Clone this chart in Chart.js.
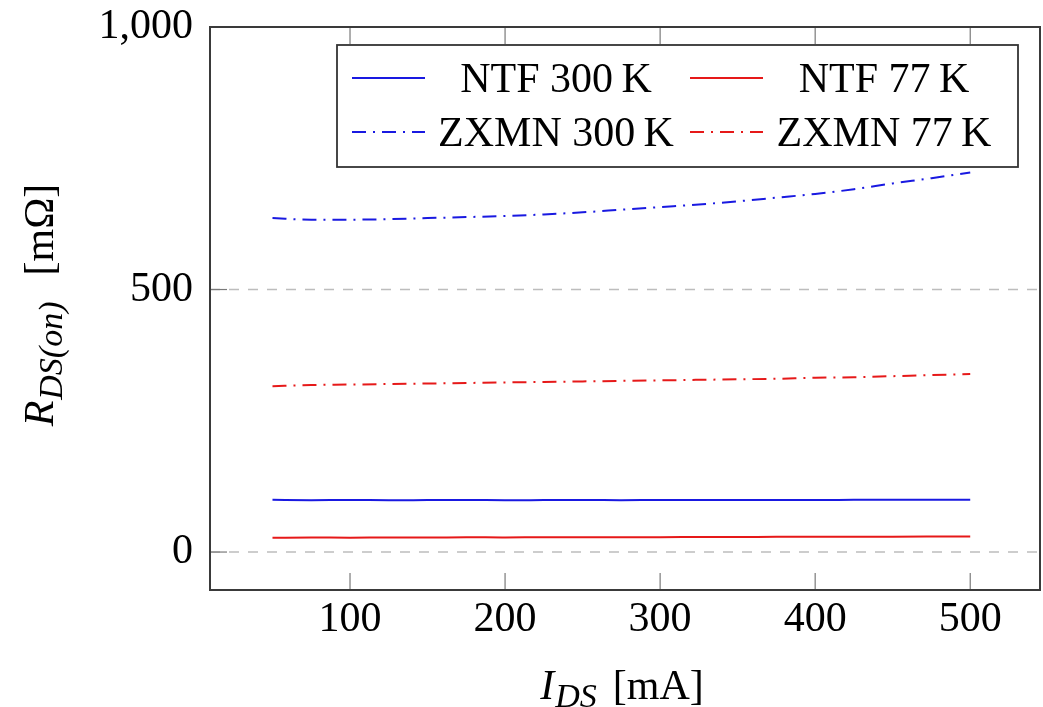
<!DOCTYPE html>
<html>
<head>
<meta charset="utf-8">
<script src="https://cdn.jsdelivr.net/npm/chart.js@4.4.1/dist/chart.umd.min.js"></script>
<style>
  html, body { margin: 0; padding: 0; background: #fff; }
  canvas { display: block; }
</style>
</head>
<body>
<canvas id="grafico" width="1043" height="707"></canvas>
<script>
// I_DS in mA
const corriente = [50, 75, 100, 125, 150, 175, 200, 225, 250, 275, 300, 325, 350, 375, 400, 425, 450, 475, 500];
// R_DS(on) in mOhm
const ntf300 = [99.5, 98.8, 99.2, 98.6, 98.9, 99.1, 98.7, 98.9, 99.0, 98.8, 99.1, 99.0, 99.2, 99.3, 99.1, 99.4, 99.6, 99.5, 99.6];
const ntf77 = [27.0, 27.6, 27.4, 27.8, 27.6, 28.0, 27.9, 28.2, 28.1, 28.4, 28.3, 28.6, 28.7, 28.9, 29.0, 29.1, 29.3, 29.4, 29.5];
const zxmn300 = [636, 633, 633, 634, 636, 638, 640, 643, 647, 652, 657, 662, 668, 675, 682, 691, 702, 712, 723];
const zxmn77 = [316, 318, 319, 320, 321, 322, 323, 324, 325, 326, 327, 328, 329, 330, 332, 333, 335, 337, 339];
const etiquetas = ['NTF 300\u2009K', 'NTF 77\u2009K', 'ZXMN 300\u2009K', 'ZXMN 77\u2009K'];
const ticksX = [100, 200, 300, 400, 500];
const ticksY = [0, 500, 1000];

const SERIF = '"Liberation Serif", "Times New Roman", serif';
const AZUL = 'rgb(25, 25, 225)';
const ROJO = 'rgb(230, 25, 25)';
const RAYA_PUNTO = [14, 7, 2, 7];

function puntos(ys) {
    return corriente.map((x, i) => ({ x: x, y: ys[i] }));
}

// draws a label made of pieces (main text, subscript, ...) centred on cx
function textoCompuesto(ctx, piezas, cx) {
    let total = 0;
    piezas.forEach(p => {
        ctx.font = p.font;
        p.w = ctx.measureText(p.t).width + (p.gap || 0);
        total += p.w;
    });
    let x = cx - total / 2;
    piezas.forEach(p => {
        ctx.font = p.font;
        ctx.fillText(p.t, x, p.dy || 0);
        x += p.w;
    });
}

const marco = {
    id: 'marco',
    beforeDatasetsDraw(chart) {
        const { ctx, chartArea: a, scales: { y } } = chart;
        ctx.save();
        ctx.strokeStyle = '#bdbdbd';
        ctx.lineWidth = 1.5;
        ctx.setLineDash([10, 9]);
        y.ticks.forEach(t => {
            const py = y.getPixelForValue(t.value);
            if (py <= a.top + 2) return;
            ctx.beginPath();
            ctx.moveTo(a.left, py);
            ctx.lineTo(a.right, py);
            ctx.stroke();
        });
        ctx.restore();
    },
    afterDatasetsDraw(chart) {
        const { ctx, chartArea: a, scales: { x, y } } = chart;
        ctx.save();
        ctx.strokeStyle = '#7a7a7a';
        ctx.lineWidth = 1.2;
        x.ticks.forEach(t => {
            const px = x.getPixelForValue(t.value);
            ctx.beginPath();
            ctx.moveTo(px, a.bottom); ctx.lineTo(px, a.bottom - 17);
            ctx.moveTo(px, a.top); ctx.lineTo(px, a.top + 17);
            ctx.stroke();
        });
        y.ticks.forEach(t => {
            const py = y.getPixelForValue(t.value);
            ctx.beginPath();
            ctx.moveTo(a.left, py); ctx.lineTo(a.left + 17, py);
            ctx.stroke();
        });
        ctx.strokeStyle = '#3a3a3a';
        ctx.lineWidth = 2;
        ctx.strokeRect(a.left, a.top, a.right - a.left, a.bottom - a.top);
        ctx.restore();
    },
    afterDraw(chart) {
        const ctx = chart.ctx;
        ctx.save();
        ctx.fillStyle = '#000';
        ctx.textBaseline = 'alphabetic';
        ctx.textAlign = 'left';

        // x axis title
        ctx.save();
        ctx.translate(0, 699);
        textoCompuesto(ctx, [
            { t: 'I', font: 'italic 42px ' + SERIF, gap: 1 },
            { t: 'DS', font: 'italic 34px ' + SERIF, dy: 8, gap: 16 },
            { t: '[mA]', font: '42px ' + SERIF }
        ], 622);
        ctx.restore();

        // y axis title
        ctx.save();
        ctx.translate(53, 305);
        ctx.rotate(-Math.PI / 2);
        textoCompuesto(ctx, [
            { t: 'R', font: 'italic 42px ' + SERIF, gap: 1 },
            { t: 'DS(on)', font: 'italic 34px ' + SERIF, dy: 9, gap: 26 },
            { t: '[m\u03A9]', font: '42px ' + SERIF }
        ], 0);
        ctx.restore();

        // legend
        ctx.fillStyle = '#fff';
        ctx.fillRect(337, 45, 681, 122);
        ctx.strokeStyle = '#333';
        ctx.lineWidth = 1.8;
        ctx.strokeRect(337, 45, 681, 122);
        const muestraX = [352, 690];
        const textoX = [556, 884];
        const filaY = [78, 132];
        chart.data.datasets.forEach((ds, i) => {
            const col = i % 2, fila = Math.floor(i / 2);
            ctx.strokeStyle = ds.borderColor;
            ctx.lineWidth = ds.borderWidth;
            ctx.setLineDash(ds.borderDash || []);
            ctx.beginPath();
            ctx.moveTo(muestraX[col], filaY[fila]);
            ctx.lineTo(muestraX[col] + 73, filaY[fila]);
            ctx.stroke();
            ctx.setLineDash([]);
            ctx.fillStyle = '#000';
            ctx.font = '42px ' + SERIF;
            ctx.textAlign = 'center';
            ctx.fillText(ds.label, textoX[col], filaY[fila] + 14);
        });
        ctx.restore();
    }
};

const ctx = document.getElementById('grafico').getContext('2d');
const grafico = new Chart(ctx, {
    type: 'line',
    data: {
        datasets: [
            { label: etiquetas[0], data: puntos(ntf300), borderColor: AZUL, borderWidth: 2 },
            { label: etiquetas[1], data: puntos(ntf77), borderColor: ROJO, borderWidth: 2 },
            { label: etiquetas[2], data: puntos(zxmn300), borderColor: AZUL, borderWidth: 2, borderDash: RAYA_PUNTO },
            { label: etiquetas[3], data: puntos(zxmn77), borderColor: ROJO, borderWidth: 2, borderDash: RAYA_PUNTO }
        ]
    },
    options: {
        responsive: false,
        animation: false,
        layout: { padding: { top: 27, right: 3, left: 0, bottom: 0 } },
        elements: {
            point: { radius: 0 },
            line: { tension: 0, cubicInterpolationMode: 'monotone', fill: false }
        },
        plugins: {
            legend: { display: false },
            tooltip: { enabled: false }
        },
        scales: {
            x: {
                type: 'linear',
                min: 9.7,
                max: 545,
                afterBuildTicks: s => { s.ticks = ticksX.map(v => ({ value: v })); },
                afterFit: s => { s.height = 117; s.paddingLeft = 0; s.paddingRight = 0; },
                grid: { display: false, drawTicks: false },
                border: { display: false },
                ticks: {
                    padding: 5,
                    color: '#000',
                    maxRotation: 0,
                    autoSkip: false,
                    font: { family: SERIF, size: 42 }
                }
            },
            y: {
                type: 'linear',
                min: -72.3,
                max: 1000,
                afterBuildTicks: s => { s.ticks = ticksY.map(v => ({ value: v })); },
                afterFit: s => { s.width = 210; s.paddingTop = 0; s.paddingBottom = 0; },
                grid: { display: false, drawTicks: false },
                border: { display: false },
                ticks: {
                    padding: 17,
                    color: '#000',
                    font: { family: SERIF, size: 42 },
                    callback: v => v.toLocaleString('en-US')
                }
            }
        }
    },
    plugins: [marco]
});
</script>
</body>
</html>
